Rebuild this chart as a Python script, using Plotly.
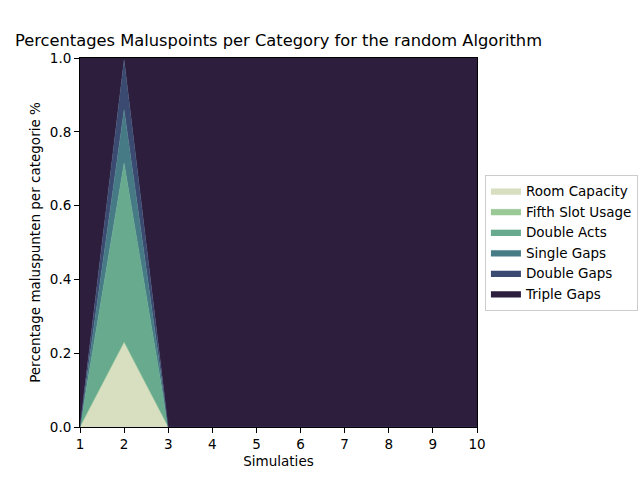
import plotly.graph_objects as go

simulaties = [1, 2, 3, 4, 5, 6, 7, 8, 9, 10]
categories = ["Room Capacity", "Fifth Slot Usage", "Double Acts",
              "Single Gaps", "Double Gaps", "Triple Gaps"]
room_capacity = [0, 0.23, 0, 0, 0, 0, 0, 0, 0, 0]
fifth_slot = [0, 0.0, 0, 0, 0, 0, 0, 0, 0, 0]
double_acts = [0, 0.485, 0, 0, 0, 0, 0, 0, 0, 0]
single_gaps = [0, 0.145, 0, 0, 0, 0, 0, 0, 0, 0]
double_gaps = [0, 0.135, 0, 0, 0, 0, 0, 0, 0, 0]
triple_gaps = [1, 0.005, 1, 1, 1, 1, 1, 1, 1, 1]
colors = ["#d8dfc1", "#9bc995", "#67aa8e", "#467b86", "#3b4a70", "#2d1e3e"]

series = [room_capacity, fifth_slot, double_acts, single_gaps, double_gaps, triple_gaps]

fig = go.Figure()
for name, vals, col in zip(categories, series, colors):
    fig.add_trace(go.Scatter(
        x=simulaties, y=vals, name=name, mode="lines",
        stackgroup="one", line=dict(width=0.5, color=col),
        fillcolor=col,
    ))

axis_style = dict(
    showline=True, linecolor="black", linewidth=1, mirror=True,
    ticks="outside", ticklen=5, tickcolor="black", showgrid=False,
    zeroline=False, tickfont=dict(size=13.5, color="black"),
    automargin=False,
)

fig.update_layout(
    width=640, height=480,
    margin=dict(l=80, r=163, t=58, b=53, autoexpand=False),
    paper_bgcolor="white", plot_bgcolor="white",
    font=dict(family="DejaVu Sans", color="black"),
    title=dict(text="Percentages Maluspoints per Category for the random Algorithm",
               x=0.5, xref="paper", y=1 - 40 / 480, yref="container",
               yanchor="middle", automargin=False,
               font=dict(size=16.3, color="black")),
    xaxis=dict(range=[1, 10], tickvals=simulaties,
               title=dict(text="Simulaties", font=dict(size=13.5), standoff=5),
               **axis_style),
    yaxis=dict(range=[0, 1], tickvals=[0, 0.2, 0.4, 0.6, 0.8, 1.0],
               tickformat=".1f",
               title=dict(text="Percentage maluspunten per categorie %",
                          font=dict(size=13.5), standoff=6),
               **axis_style),
    legend=dict(x=1.02, y=0.5, xanchor="left", yanchor="middle",
                bordercolor="#cccccc", borderwidth=1,
                font=dict(size=13.5), traceorder="normal",
                tracegroupgap=0, itemwidth=30),
)

# page body has a default 8px margin; drop it so the figure sits at 0,0
fig.write_html("out.html", config={"displayModeBar": False},
               post_script="document.body.style.margin='0';")
